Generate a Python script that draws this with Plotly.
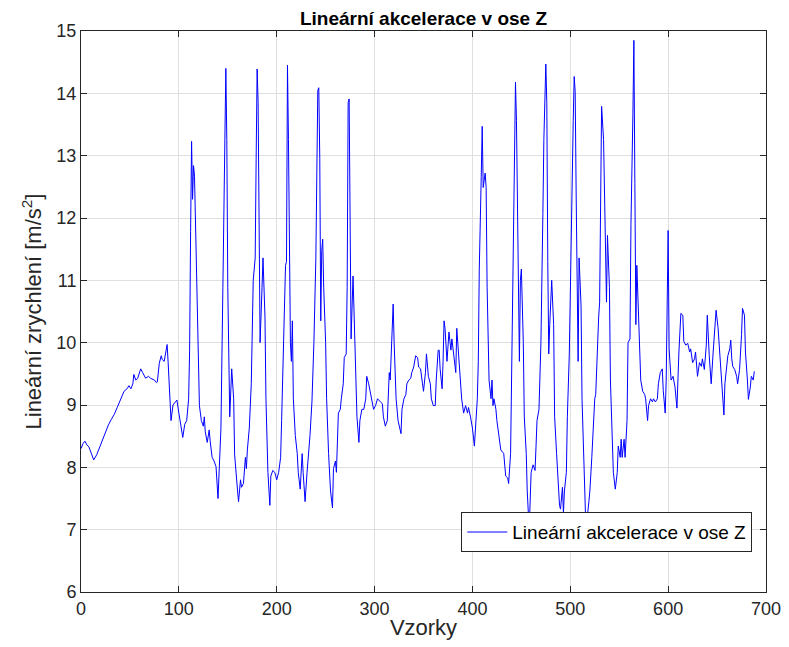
import plotly.graph_objects as go

# Sample indices (vertices) and acceleration values [m/s^2]
samples = [
    0, 2, 4, 6, 8, 10, 13, 16, 19, 22, 25, 28, 31, 34, 37, 40, 42, 44, 47, 49,
    51, 53, 54, 56, 58, 61, 63, 66, 69, 71, 75, 77, 78, 80, 82, 83, 85, 87, 88, 89,
    90, 92, 94, 96, 98, 100, 102, 104, 106, 108, 110, 111, 112, 113, 114, 115, 116, 117, 120, 121,
    123, 125, 126, 127, 129, 131, 132, 134, 136, 138, 140, 141, 143, 145, 146, 148, 149, 150, 152, 153,
    154, 156, 157, 160, 161, 163, 164, 166, 168, 169, 170, 172, 174, 176, 178, 179, 180, 181, 182, 183,
    185, 186, 188, 189, 191, 193, 194, 196, 198, 200, 202, 204, 205, 207, 209, 210, 211, 212, 213, 214,
    215, 216, 217, 219, 221, 222, 224, 226, 227, 229, 231, 233, 234, 236, 238, 240, 241, 242, 243, 244,
    245, 246, 247, 248, 250, 251, 253, 255, 257, 258, 260, 261, 263, 265, 266, 268, 269, 271, 272, 273,
    274, 275, 276, 278, 279, 281, 282, 284, 285, 287, 289, 291, 292, 294, 297, 299, 301, 303, 306, 308,
    309, 311, 313, 315, 316, 318, 319, 320, 322, 324, 327, 328, 330, 332, 333, 335, 337, 338, 340, 342,
    344, 345, 347, 349, 350, 352, 353, 355, 357, 358, 360, 362, 363, 365, 366, 367, 369, 370, 371, 372,
    374, 376, 378, 379, 381, 383, 384, 386, 388, 389, 391, 393, 395, 396, 398, 400, 402, 403, 405, 406,
    407, 409, 410, 411, 413, 414, 415, 417, 419, 420, 421, 422, 424, 425, 427, 429, 432, 434, 436, 437,
    439, 441, 443, 444, 445, 447, 448, 449, 450, 452, 453, 455, 456, 458, 459, 460, 462, 464, 465, 466,
    468, 470, 472, 473, 475, 476, 477, 478, 479, 481, 483, 484, 486, 488, 489, 490, 492, 493, 494, 496,
    497, 499, 500, 501, 503, 504, 505, 506, 507, 508, 509, 511, 512, 514, 516, 519, 520, 522, 524, 525,
    526, 527, 529, 530, 531, 532, 534, 535, 536, 537, 538, 540, 541, 543, 544, 546, 548, 549, 551, 552,
    553, 555, 556, 558, 559, 561, 562, 564, 565, 566, 567, 568, 569, 571, 572, 574, 576, 577, 579, 580,
    582, 584, 585, 587, 589, 590, 592, 594, 595, 597, 598, 600, 601, 603, 605, 607, 609, 611, 613, 615,
    616, 618, 620, 622, 623, 625, 627, 628, 630, 632, 634, 635, 637, 639, 640, 642, 644, 646, 647, 649,
    651, 653, 654, 656, 657, 658, 660, 661, 663, 664, 665, 666, 668, 670, 671, 673, 675, 676, 678, 679,
    681, 682, 684, 685, 687, 688,
]
accel_z = [
    8.30, 8.38, 8.42, 8.36, 8.33, 8.25, 8.12, 8.20, 8.32, 8.45, 8.58, 8.68, 8.77, 8.85, 8.96, 9.08, 9.17, 9.22, 9.26, 9.31,
    9.26, 9.34, 9.49, 9.40, 9.43, 9.58, 9.52, 9.43, 9.46, 9.43, 9.40, 9.36, 9.37, 9.67, 9.79, 9.73, 9.70, 9.88, 9.97, 9.70,
    9.40, 8.75, 9.00, 9.05, 9.08, 8.87, 8.66, 8.48, 8.69, 8.75, 9.10, 9.88, 11.78, 13.23, 12.30, 12.84, 12.67, 11.95, 9.70, 8.99,
    8.75, 8.66, 8.81, 8.57, 8.40, 8.60, 8.42, 8.16, 8.10, 8.01, 7.50, 7.98, 8.63, 10.89, 12.30, 14.40, 13.26, 10.89, 8.81, 9.34,
    9.58, 9.10, 8.20, 7.62, 7.45, 7.80, 7.68, 7.74, 8.16, 7.98, 8.28, 8.63, 9.34, 11.00, 11.36, 12.96, 14.39, 13.85, 12.07, 10.00,
    10.89, 11.36, 10.41, 9.10, 7.92, 7.39, 7.86, 7.95, 7.92, 7.80, 7.92, 8.16, 8.75, 10.17, 11.24, 11.30, 14.45, 13.26, 11.18, 10.00,
    9.70, 10.35, 9.10, 8.51, 8.22, 7.92, 7.65, 8.22, 7.92, 7.45, 7.92, 8.28, 8.51, 9.05, 10.00, 11.36, 12.67, 14.05, 14.09, 12.96,
    10.35, 11.48, 11.66, 10.89, 10.00, 9.10, 8.22, 7.62, 7.35, 7.98, 8.10, 7.92, 8.87, 8.93, 9.10, 9.34, 9.76, 9.82, 10.89, 13.85,
    13.91, 12.30, 10.06, 11.07, 10.53, 9.58, 8.81, 8.40, 8.75, 8.93, 8.93, 9.10, 9.46, 9.34, 9.10, 8.93, 8.99, 9.10, 9.05, 9.02,
    8.81, 8.66, 8.75, 9.52, 9.40, 10.17, 10.62, 10.00, 9.10, 8.75, 8.54, 8.93, 9.10, 9.17, 9.34, 9.40, 9.43, 9.52, 9.61, 9.79,
    9.76, 9.61, 9.58, 9.34, 9.22, 9.52, 9.82, 9.46, 9.34, 9.10, 8.99, 8.99, 9.40, 9.88, 9.88, 9.58, 9.26, 9.70, 10.35, 10.23,
    9.70, 10.17, 9.88, 10.06, 9.82, 9.52, 10.23, 9.82, 9.46, 9.10, 8.87, 8.99, 8.87, 8.96, 8.81, 8.63, 8.34, 8.63, 9.10, 9.70,
    11.18, 12.67, 13.47, 12.49, 12.72, 12.49, 10.89, 9.40, 9.10, 9.40, 8.99, 9.10, 8.93, 8.75, 8.51, 8.28, 8.22, 7.86, 7.83, 7.74,
    8.22, 10.29, 12.37, 14.18, 13.56, 11.48, 9.70, 11.00, 11.18, 10.00, 8.81, 8.22, 7.62, 7.00, 7.62, 7.92, 8.04, 7.95, 8.34, 8.75,
    8.93, 10.00, 12.07, 13.26, 14.47, 13.85, 11.30, 9.82, 10.29, 11.00, 10.29, 8.81, 8.22, 7.62, 7.39, 7.33, 7.68, 7.27, 7.62, 7.92,
    8.81, 9.82, 10.89, 12.07, 13.56, 14.27, 14.03, 12.37, 10.89, 9.70, 11.36, 10.59, 9.10, 7.92, 7.00, 7.45, 7.62, 8.16, 8.99, 9.10,
    9.17, 9.64, 10.41, 10.65, 12.07, 13.79, 13.26, 12.31, 10.89, 10.65, 11.72, 10.89, 9.40, 8.51, 7.92, 7.65, 7.92, 8.34, 8.16, 8.45,
    8.16, 8.45, 8.16, 8.75, 10.00, 10.06, 11.90, 13.67, 14.85, 12.55, 10.29, 11.24, 10.77, 9.70, 9.40, 9.22, 9.17, 9.10, 8.75, 8.99,
    9.10, 9.05, 9.10, 9.05, 9.10, 9.34, 9.52, 9.58, 9.23, 8.87, 9.40, 11.80, 9.90, 9.40, 9.46, 9.29, 8.95, 9.85, 10.47, 10.44,
    10.02, 9.96, 9.99, 9.85, 9.90, 9.68, 9.74, 9.85, 9.46, 9.68, 9.62, 9.74, 9.57, 9.96, 10.44, 9.79, 9.34, 9.85, 10.13, 10.52,
    10.24, 9.79, 9.68, 9.17, 8.84, 9.34, 9.62, 9.79, 9.90, 10.04, 9.74, 9.62, 9.57, 9.46, 9.34, 9.57, 10.13, 10.55, 10.44, 9.85,
    9.40, 9.09, 9.29, 9.46, 9.40, 9.54,
]

x_ticks = [0, 100, 200, 300, 400, 500, 600, 700]
y_ticks = [6, 7, 8, 9, 10, 11, 12, 13, 14, 15]

series_name = "Lineární akcelerace v ose Z"
title_text = "Lineární akcelerace v ose Z"
x_label = "Vzorky"
y_label = "Lineární zrychlení [m/s<sup>2</sup>]"

FONT = "Liberation Sans, Arial, Helvetica, sans-serif"

# The page body adds an 8 px margin, so the figure is 8 px smaller and
# its margins are shifted to land the axes at the reference position.
FIG_W, FIG_H = 781, 639

fig = go.Figure()
fig.add_trace(go.Scatter(
    x=samples, y=accel_z, mode="lines", name=series_name,
    line=dict(color="#0000ff", width=1),
))

axis_common = dict(
    showline=True, linecolor="#262626", linewidth=1, mirror="allticks",
    ticks="inside", ticklen=6, tickcolor="#262626",
    showgrid=True, gridcolor="#dfdfdf", gridwidth=1, zeroline=False,
    automargin=False,
    tickfont=dict(family=FONT, size=18, color="#262626"),
)

fig.update_layout(
    width=FIG_W, height=FIG_H,
    margin=dict(l=73, r=23, t=23, b=55),
    paper_bgcolor="white", plot_bgcolor="white",
    font=dict(family=FONT, color="#262626"),
    title=dict(text="<b>" + title_text + "</b>", x=0.5, xref="paper",
               y=1 - 10 / FIG_H, yref="container", yanchor="middle",
               pad=dict(t=0, b=0),
               font=dict(family=FONT, size=19, color="black")),
    xaxis=dict(range=[0, 700], tickvals=x_ticks,
               title=dict(text=x_label, standoff=2, font=dict(family=FONT, size=22, color="#262626")),
               **axis_common),
    yaxis=dict(range=[6, 15], tickvals=y_ticks,
               title=dict(text=y_label, standoff=8, font=dict(family=FONT, size=22, color="#262626")),
               **axis_common),
    showlegend=True,
    legend=dict(x=0.98, y=0.071, xanchor="right", yanchor="bottom",
                bgcolor="white", bordercolor="#262626", borderwidth=1,
                font=dict(family=FONT, size=19, color="black"),
                itemwidth=40),
)

fig.write_html("out.html")
